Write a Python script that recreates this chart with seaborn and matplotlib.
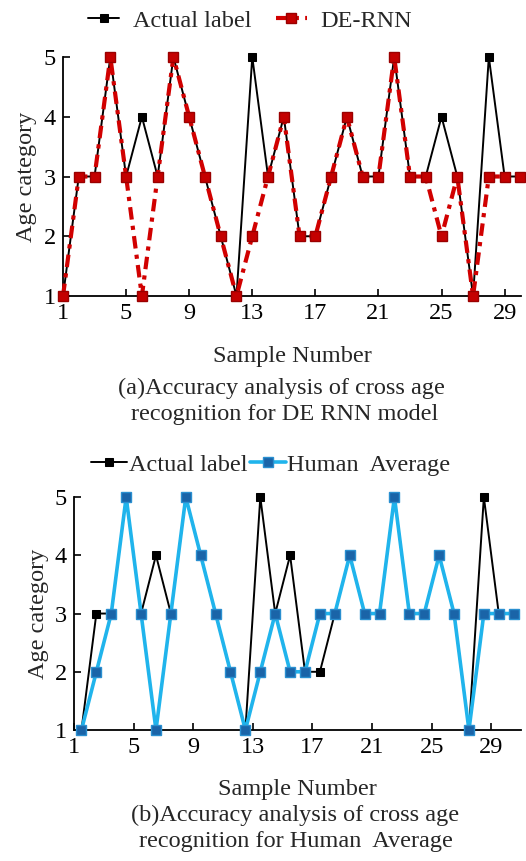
import matplotlib
matplotlib.use('Agg')
import matplotlib.pyplot as plt
import seaborn as sns
import pandas as pd

# ---------------------------------------------------------
# data
# ---------------------------------------------------------
samples = list(range(1, 31))
actual_a = [1, 3, 3, 5, 3, 4, 3, 5, 4, 3, 2, 1, 5, 3, 4, 2, 2, 3, 4, 3, 3, 5, 3, 3, 4, 3, 1, 5, 3, 3]
de_rnn = [1, 3, 3, 5, 3, 1, 3, 5, 4, 3, 2, 1, 2, 3, 4, 2, 2, 3, 4, 3, 3, 5, 3, 3, 2, 3, 1, 3, 3, 3]
actual_b = [1, 3, 3, 5, 3, 4, 3, 5, 4, 3, 2, 1, 5, 3, 4, 2, 2, 3, 4, 3, 3, 5, 3, 3, 4, 3, 1, 5, 3, 3]
human_avg = [1, 2, 3, 5, 3, 1, 3, 5, 4, 3, 2, 1, 2, 3, 2, 2, 3, 3, 4, 3, 3, 5, 3, 3, 4, 3, 1, 3, 3, 3]
x_ticks = [1, 5, 9, 13, 17, 21, 25, 29]
y_ticks = [1, 2, 3, 4, 5]

sns.set_style('ticks')
plt.rcParams['font.family'] = ['Liberation Serif', 'DejaVu Serif']
FS = 17.5

fig = plt.figure(figsize=(5.26, 8.61), dpi=100)
ax1 = fig.add_axes([0.1198, 0.6562, 0.871, 0.2776])
ax2 = fig.add_axes([0.1407, 0.1521, 0.850, 0.2706])

# ---------------------------------------------------------
# (a) DE-RNN
# ---------------------------------------------------------
df_a = pd.DataFrame({'x': samples, 'actual': actual_a, 'pred': de_rnn})
sns.lineplot(data=df_a, x='x', y='actual', ax=ax1, color='black', lw=1.4,
             marker='s', markersize=5.5, markeredgecolor='black',
             label='Actual label', clip_on=False, zorder=3)
sns.lineplot(data=df_a, x='x', y='pred', ax=ax1, color='#d10000', lw=3.0,
             ls=(0, (3, 1.5, 1, 1.5)), marker='s', markersize=7.5,
             markerfacecolor='#c40000', markeredgecolor='#9a0000',
             markeredgewidth=1.0, label='DE-RNN', clip_on=False, zorder=4)
ax1.set_xlim(1, 30.05)
ax1.set_ylim(1, 5)
ax1.set_xticks(x_ticks)
ax1.set_yticks(y_ticks)
ax1.set_xlabel('Sample Number', fontsize=FS, labelpad=16)
ax1.set_ylabel('Age category', fontsize=FS, labelpad=5)
ax1.legend(loc='lower center', bbox_to_anchor=(0.408, 1.065), ncol=2,
           frameon=False, fontsize=FS, handlelength=1.3, columnspacing=1.0,
           handletextpad=0.55, borderaxespad=0)

# ---------------------------------------------------------
# (b) Human average
# ---------------------------------------------------------
pos_b = [s + 0.5 for s in samples]
df_b = pd.DataFrame({'x': pos_b, 'actual': actual_b, 'pred': human_avg})
sns.lineplot(data=df_b, x='x', y='actual', ax=ax2, color='black', lw=1.4,
             marker='s', markersize=5.5, markeredgecolor='black',
             label='Actual label', clip_on=False, zorder=3)
sns.lineplot(data=df_b, x='x', y='pred', ax=ax2, color='#20b4ec', lw=2.6,
             marker='s', markersize=7.5, markerfacecolor='#1a64a8',
             markeredgecolor='#2a8fd0', markeredgewidth=1.0,
             label='Human  Average', clip_on=False, zorder=4)
ax2.set_xlim(1, 31)
ax2.set_ylim(1, 5)
ax2.set_xticks(x_ticks)
ax2.set_yticks(y_ticks)
ax2.set_xlabel('Sample Number', fontsize=FS, labelpad=15)
ax2.set_ylabel('Age category', fontsize=FS, labelpad=4)
ax2.legend(loc='lower center', bbox_to_anchor=(0.44, 1.05), ncol=2,
           frameon=False, fontsize=FS, handlelength=1.5, columnspacing=0.1,
           handletextpad=0.05, borderaxespad=0)

for ax in (ax1, ax2):
    sns.despine(ax=ax)
    ax.tick_params(direction='in', length=5, width=1.2, labelsize=FS, pad=5,
                   colors='black')
    for s in ('left', 'bottom'):
        ax.spines[s].set_linewidth(1.3)
        ax.spines[s].set_color('black')

# captions
fig.text(0.536, 1 - 388 / 861, '(a)Accuracy analysis of cross age',
         ha='center', va='center', fontsize=FS)
fig.text(0.542, 1 - 414 / 861, 'recognition for DE RNN model',
         ha='center', va='center', fontsize=FS)
fig.text(0.561, 1 - 815 / 861, '(b)Accuracy analysis of cross age',
         ha='center', va='center', fontsize=FS)
fig.text(0.563, 1 - 842 / 861, 'recognition for Human  Average',
         ha='center', va='center', fontsize=FS)

fig.savefig('out.png', dpi=100)
